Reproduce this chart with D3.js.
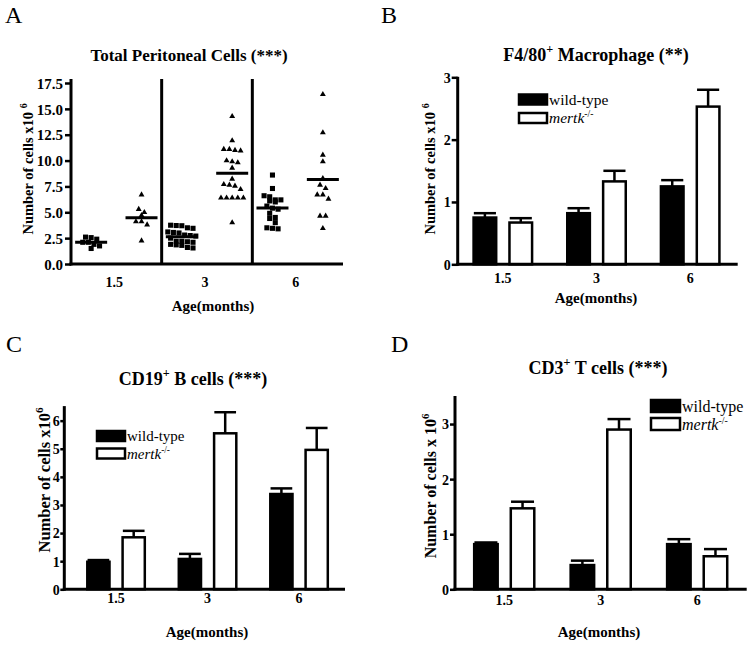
<!DOCTYPE html>
<html><head><meta charset="utf-8">
<script src="https://cdn.jsdelivr.net/npm/d3@7/dist/d3.min.js"></script>
<style>
body{margin:0;background:#fff;}
svg{display:block;}
text{font-family:"Liberation Serif","Times New Roman",serif;fill:#000;}
</style></head>
<body><svg id="c" width="753" height="647"></svg>
<script>
// ---------- DATA ----------
const ages = ["1.5", "3", "6"];
const seriesLabels = ["wild-type", "mertk"];

// Panel A: total peritoneal cells (x10^6), individual animals
const totalWT_1_5 = [2.6, 2.55, 2.4, 2.1, 2.1, 1.9, 1.75, 1.5];
const totalKO_1_5 = [6.7, 5.3, 5.0, 4.7, 4.1, 3.8, 4.1, 2.25];
const totalWT_3 = [3.75, 3.7, 3.72, 3.5, 3.45, 3.1, 3.05, 3.0, 2.8, 2.75, 2.7, 2.5, 2.2, 2.15, 2.1, 2.2, 1.85, 1.8, 1.9, 1.55, 1.6];
const totalKO_3 = [14.28, 11.93, 11.1, 11.0, 10.95, 11.1, 9.9, 10.0, 9.8, 9.28, 8.22, 7.64, 7.7, 7.54, 7.22, 6.4, 6.4, 6.4, 6.4, 6.4, 4.0];
const totalWT_6 = [8.6, 7.3, 6.5, 6.6, 6.2, 6.1, 6.2, 6.0, 5.6, 5.4, 5.3, 4.9, 4.4, 4.5, 4.0, 3.5, 3.4, 3.45];
const totalKO_6 = [16.4, 12.7, 10.54, 9.9, 8.28, 7.64, 7.32, 6.7, 6.7, 6.29, 4.64, 4.64, 3.45];
const totalMeanWT = [2.1, 2.64, 5.42];
const totalMeanKO = [4.48, 8.77, 8.18];
const totalTicks = [0, 2.5, 5, 7.5, 10, 12.5, 15, 17.5];

// Panel B: F4/80+ macrophages
const f480WT = [0.75, 0.82, 1.25], f480WTerr = [0.07, 0.08, 0.10];
const f480KO = [0.67, 1.33, 2.53], f480KOerr = [0.07, 0.17, 0.27];
const f480Ticks = [0, 1, 2, 3];

// Panel C: CD19+ B cells
const cd19WT = [0.98, 1.08, 3.39], cd19WTerr = [0.06, 0.18, 0.20];
const cd19KO = [1.85, 5.55, 4.96], cd19KOerr = [0.23, 0.75, 0.78];
const cd19Ticks = [0, 1, 2, 3, 4, 5, 6];

// Panel D: CD3+ T cells
const cd3WT = [0.82, 0.44, 0.82], cd3WTerr = [0.03, 0.08, 0.09];
const cd3KO = [1.47, 2.90, 0.60], cd3KOerr = [0.12, 0.19, 0.13];
const cd3Ticks = [0, 1, 2, 3];

// ---------- DRAWING ----------
const svg = d3.select("#c");
const FONT = '"Liberation Serif","Times New Roman",serif';

function txt(x, y, s, opts = {}) {
  return svg.append("text").attr("x", x).attr("y", y)
    .attr("font-size", opts.size || 14)
    .attr("font-weight", opts.weight || "bold")
    .attr("text-anchor", opts.anchor || "middle")
    .text(s);
}

function supText(g, x, y, parts, size, anchor, rotate) {
  const t = g.append("text").attr("font-size", size).attr("font-weight", "bold")
    .attr("text-anchor", anchor || "middle");
  if (rotate) t.attr("transform", `translate(${x},${y}) rotate(-90)`);
  else t.attr("x", x).attr("y", y);
  parts.forEach(p => {
    const ts = t.append("tspan").text(p.t);
    if (p.sup) ts.attr("dy", -size * 0.42).attr("font-size", size * 0.68);
    if (p.back) ts.attr("dy", size * 0.42);
  });
  return t;
}

function yAxis(y, x0, ticks, fmt, topY, size, tSize, tPad) {
  const ax = d3.axisLeft(y).tickValues(ticks).tickFormat(fmt).tickSize(tSize).tickPadding(tPad).tickSizeOuter(0);
  const g = svg.append("g").attr("transform", `translate(${x0},0)`).call(ax);
  g.select(".domain").remove();
  g.selectAll(".tick line").attr("stroke", "#000").attr("stroke-width", 2.5);
  g.selectAll(".tick text").attr("font-size", size).attr("font-weight", "bold")
    .attr("font-family", FONT).attr("fill", "#000").attr("dy", "0.35em");
  svg.append("line").attr("x1", x0).attr("x2", x0).attr("y1", topY).attr("y2", y(0) + 1.5)
    .attr("stroke", "#000").attr("stroke-width", 3);
}

function xAxisLine(x0, x1, y0) {
  svg.append("line").attr("x1", x0 - 1.5).attr("x2", x1).attr("y1", y0).attr("y2", y0)
    .attr("stroke", "#000").attr("stroke-width", 3);
}

function panelLetter(x, y, s) {
  txt(x, y, s, {size: 24, weight: "normal", anchor: "start"});
}

// ----- Panel A -----
(function () {
  const y = d3.scaleLinear().domain([0, 17.5]).range([264, 83]);
  const x = d3.scaleBand().domain(ages).range([71, 343]);
  const inner = d3.scalePoint().domain(["wt", "ko"]).range([0, x.bandwidth()]).padding(0.4);
  yAxis(y, 71, totalTicks, d3.format(".1f"), 79, 15, 6, 2);
  xAxisLine(71, 343, y(0));
  [ages[1], ages[2]].forEach(a => {
    svg.append("line").attr("x1", x(a)).attr("x2", x(a)).attr("y1", 79).attr("y2", y(0))
      .attr("stroke", "#000").attr("stroke-width", 3);
  });
  const groups = [
    {age: "1.5", s: "wt", vals: totalWT_1_5, mean: totalMeanWT[0]},
    {age: "1.5", s: "ko", vals: totalKO_1_5, mean: totalMeanKO[0]},
    {age: "3", s: "wt", vals: totalWT_3, mean: totalMeanWT[1]},
    {age: "3", s: "ko", vals: totalKO_3, mean: totalMeanKO[1]},
    {age: "6", s: "wt", vals: totalWT_6, mean: totalMeanWT[2]},
    {age: "6", s: "ko", vals: totalKO_6, mean: totalMeanKO[2]}
  ];
  const sq = d3.symbol().type(d3.symbolSquare).size(26);
  const tri = d3.symbol().type(d3.symbolTriangle).size(15);
  groups.forEach(gr => {
    const cx = x(gr.age) + inner(gr.s);
    const sorted = gr.vals.slice().sort((a, b) => b - a);
    const rows = [];
    sorted.forEach(v => {
      const py = y(v);
      const last = rows[rows.length - 1];
      if (last && py - last.y0 < 5) last.pts.push(v);
      else rows.push({y0: py, pts: [v]});
    });
    rows.forEach(r => {
      const n = r.pts.length;
      r.pts.forEach((v, i) => {
        const px = cx + (i - (n - 1) / 2) * 5.6;
        svg.append("path").attr("d", gr.s === "wt" ? sq() : tri())
          .attr("transform", `translate(${px},${y(v)})`).attr("fill", "#000");
      });
    });
    svg.append("line").attr("x1", cx - 16).attr("x2", cx + 16).attr("y1", y(gr.mean)).attr("y2", y(gr.mean))
      .attr("stroke", "#000").attr("stroke-width", 3);
  });
  ages.forEach(a => txt(x(a) + x.bandwidth() / 2 - 2, 287, a, {size: 14}));
  txt(213, 311, "Age(months)", {size: 15});
  supText(svg, 33, 169, [{t: "Number of cells x10 "}, {t: "6", sup: true}], 14.5, "middle", true);
  txt(189, 61, "Total Peritoneal Cells (***)", {size: 17});
  panelLetter(5, 23, "A");
})();

function barPanel(cfg) {
  const y = d3.scaleLinear().domain([0, cfg.yMax]).range([cfg.y0, cfg.yTop]);
  const x = d3.scaleBand().domain(ages).range(cfg.band);
  const c = x.bandwidth() / 2;
  const inner = d3.scaleBand().domain(["wt", "ko"]).range([c - cfg.half, c + cfg.half]).paddingInner(cfg.gap);
  yAxis(y, cfg.ax, cfg.ticks, d3.format("d"), y(cfg.yMax) - 0.5, cfg.tickSize, cfg.tLen, cfg.tPad);
  const series = [
    {s: "wt", vals: cfg.wt, err: cfg.wtErr, fill: "#000"},
    {s: "ko", vals: cfg.ko, err: cfg.koErr, fill: "#fff"}
  ];
  series.forEach(se => {
    ages.forEach((a, i) => {
      const bx = x(a) + inner(se.s), bw = inner.bandwidth();
      const top = y(se.vals[i]), etop = y(se.vals[i] + se.err[i]);
      const mid = bx + bw / 2;
      svg.append("line").attr("x1", mid).attr("x2", mid).attr("y1", top).attr("y2", etop)
        .attr("stroke", "#000").attr("stroke-width", 2.5);
      svg.append("line").attr("x1", mid - bw / 2 + 1.5).attr("x2", mid + bw / 2 - 1.5).attr("y1", etop).attr("y2", etop)
        .attr("stroke", "#000").attr("stroke-width", 2.5);
      svg.append("rect").attr("x", bx + 1.25).attr("y", top).attr("width", bw - 2.5).attr("height", y(0) - top)
        .attr("fill", se.fill).attr("stroke", "#000").attr("stroke-width", 2.5);
    });
  });
  xAxisLine(cfg.ax, cfg.axEnd, y(0));
  ages.forEach(a => txt(x(a) + c, cfg.tickBase, a, {size: 14}));
  txt(cfg.xlab[0], cfg.xlab[1], "Age(months)", {size: 15});
  supText(svg, cfg.ylab[0], cfg.ylab[1], [{t: cfg.ylabText}, {t: "6", sup: true}], cfg.ylab[2], "middle", true);
  supText(svg, cfg.title[0], cfg.title[1], [{t: cfg.titleA}, {t: "+", sup: true}, {t: cfg.titleB, back: true}], cfg.title[2], "middle", false);
  panelLetter(cfg.letter[0], cfg.letter[1], cfg.letter[2]);
  const L = cfg.legend;
  [0, 1].forEach(k => {
    svg.append("rect").attr("x", L.x).attr("y", L.y + k * L.dy).attr("width", L.w).attr("height", L.h)
      .attr("fill", k === 0 ? "#000" : "#fff").attr("stroke", "#000").attr("stroke-width", 2.5);
  });
  svg.append("text").attr("x", L.x + L.w + 2).attr("y", L.y + L.h).attr("font-size", L.fs).text(seriesLabels[0]);
  const t2 = svg.append("text").attr("x", L.x + L.w + 2).attr("y", L.y + L.dy + L.h).attr("font-size", L.fs);
  t2.append("tspan").attr("font-style", "italic").text(seriesLabels[1]);
  t2.append("tspan").attr("font-size", L.fs * 0.62).attr("dy", -L.fs * 0.4).text("-/-");
}

barPanel({
  yMax: 3, y0: 264.3, yTop: 77.3, band: [456, 737], half: 30.5, gap: 0.3,
  ax: 457.7, axEnd: 737.7, ticks: f480Ticks, tickSize: 14, tLen: 6, tPad: 1,
  wt: f480WT, wtErr: f480WTerr, ko: f480KO, koErr: f480KOerr,
  tickBase: 283, xlab: [596, 303], ylab: [435, 169, 14.5], ylabText: "Number of cells x10 ",
  title: [596, 61, 18], titleA: "F4/80", titleB: " Macrophage (**)",
  letter: [381, 23, "B"],
  legend: {x: 519, y: 94.5, w: 28, h: 10, dy: 18.5, fs: 15.5}
});

barPanel({
  yMax: 6.5, y0: 589.3, yTop: 406.6, band: [70.3, 344.8], half: 30, gap: 0.3,
  ax: 64.3, axEnd: 345, ticks: cd19Ticks, tickSize: 14, tLen: 4, tPad: 0.5,
  wt: cd19WT, wtErr: cd19WTerr, ko: cd19KO, koErr: cd19KOerr,
  tickBase: 603, xlab: [207, 637], ylab: [50, 480, 16.5], ylabText: "Number of cells x10",
  title: [193, 385, 18], titleA: "CD19", titleB: " B cells (***)",
  letter: [6, 352, "C"],
  legend: {x: 97, y: 431, w: 28, h: 10, dy: 17.5, fs: 15}
});

barPanel({
  yMax: 3.5, y0: 589.3, yTop: 396.5, band: [456, 745.4], half: 31.3, gap: 0.29,
  ax: 455, axEnd: 746.7, ticks: cd3Ticks, tickSize: 14, tLen: 5, tPad: 1,
  wt: cd3WT, wtErr: cd3WTerr, ko: cd3KO, koErr: cd3KOerr,
  tickBase: 605, xlab: [599, 637], ylab: [436, 486, 16], ylabText: "Number of cells x 10",
  title: [598, 374, 18], titleA: "CD3", titleB: " T cells (***)",
  letter: [391, 352, "D"],
  legend: {x: 651, y: 400, w: 29, h: 12, dy: 18, fs: 16}
});
</script></body></html>
